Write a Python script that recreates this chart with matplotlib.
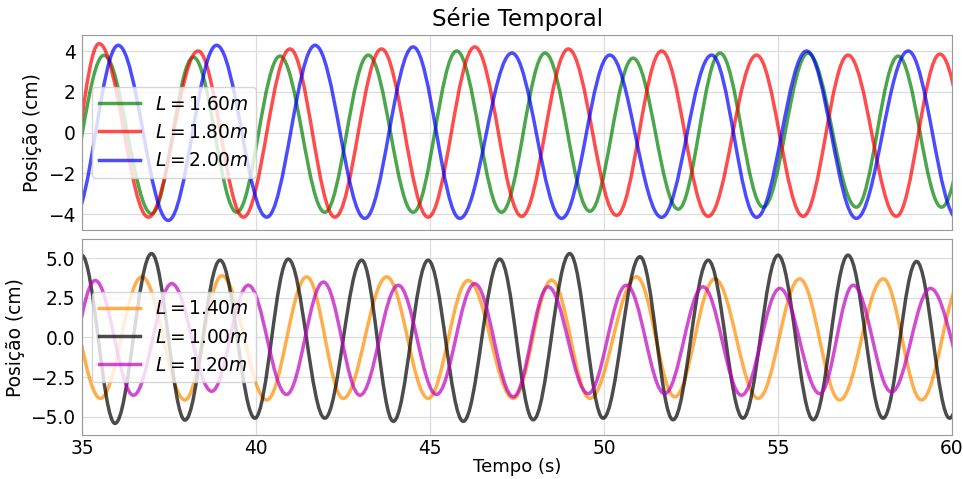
import matplotlib
matplotlib.use("Agg")
import matplotlib.pyplot as plt
from matplotlib.path import Path
from matplotlib.patches import PathPatch
from matplotlib.lines import Line2D

# peaks / troughs (time in s, position in cm)
# first and last entries sit just outside the 35-60 s window
t_160 = [34.37, 35.62, 36.99, 38.19, 39.44, 40.68, 41.97, 43.22, 44.51, 45.76, 47.05,
         48.30, 49.59, 50.83, 52.13, 53.33, 54.57, 55.86, 57.25, 58.45, 59.70, 60.97]
y_160 = [-3.9, 3.79, -3.97, 3.7, -3.9, 3.75, -3.9, 3.8, -3.9, 4.0, -3.9,
         3.9, -3.85, 3.65, -3.75, 3.9, -3.65, 3.9, -3.65, 3.75, -3.65, 3.8]

t_180 = [34.4, 35.48, 36.9, 38.33, 39.63, 40.97, 42.26, 43.6, 44.94, 46.28, 47.63,
         48.97, 50.36, 51.65, 52.99, 54.38, 55.72, 57.01, 58.4, 59.65, 61.0]
y_180 = [-4.1, 4.36, -4.14, 4.0, -4.14, 4.1, -4.14, 4.1, -4.14, 4.2, -4.1,
         4.1, -4.05, 4.0, -4.1, 3.8, -4.1, 3.8, -4.1, 3.85, -4.1]

t_200 = [34.74, 36.03, 37.47, 38.86, 40.3, 41.69, 43.12, 44.51, 45.85, 47.35,
         48.78, 50.16, 51.65, 53.09, 54.38, 55.82, 57.25, 58.74, 60.15, 61.55]
y_200 = [-4.2, 4.28, -4.3, 4.28, -4.14, 4.28, -4.2, 4.2, -4.2, 3.9,
         -4.2, 3.8, -4.15, 3.8, -4.15, 4.0, -4.2, 4.0, -4.2, 4.0]

t_140 = [34.35, 35.52, 36.71, 37.95, 39.01, 40.3, 41.45, 42.5, 43.75, 44.94, 46.09, 47.39,
         48.49, 49.59, 50.93, 52.03, 53.18, 54.43, 55.62, 56.77, 58.02, 59.12, 60.3]
y_140 = [3.8, -3.85, 3.83, -3.95, 3.9, -3.95, 3.83, -3.85, 3.83, -3.85, 3.6, -3.85,
         3.62, -3.85, 3.83, -3.75, 3.7, -3.85, 3.7, -3.95, 3.7, -3.95, 3.7]

t_100 = [34.98, 35.94, 36.99, 37.95, 38.96, 39.96, 40.92, 41.97, 43.03, 43.94, 44.94, 45.95,
         47.0, 47.96, 49.01, 49.97, 51.03, 51.98, 52.99, 53.99, 55.0, 56.01, 57.01, 58.02,
         58.98, 59.93, 60.95]
y_100 = [5.2, -5.43, 5.3, -5.22, 4.88, -5.1, 4.95, -5.1, 4.88, -5.3, 4.88, -5.3,
         4.95, -5.2, 5.3, -5.1, 5.1, -5.2, 4.88, -5.1, 5.2, -5.2, 5.2, -5.1,
         4.8, -5.1, 5.0]

t_120 = [34.35, 35.37, 36.47, 37.57, 38.72, 39.77, 40.87, 41.93, 42.98, 44.08, 45.18, 46.28,
         47.39, 48.39, 49.54, 50.64, 51.74, 52.84, 53.95, 55.05, 56.2, 57.16, 58.26, 59.38, 60.6]
y_120 = [-3.6, 3.6, -3.65, 3.4, -3.4, 3.3, -3.6, 3.5, -3.65, 3.3, -3.6, 3.4,
         -3.75, 3.2, -3.55, 3.3, -3.55, 3.2, -3.65, 3.1, -3.55, 3.3, -3.45, 3.1, -3.5]

top_series = [(t_160, y_160, "g", r"$L = 1.60m$"),
              (t_180, y_180, "r", r"$L = 1.80m$"),
              (t_200, y_200, "b", r"$L = 2.00m$")]
bot_series = [(t_140, y_140, "darkorange", r"$L = 1.40m$"),
              (t_100, y_100, "k", r"$L = 1.00m$"),
              (t_120, y_120, "m", r"$L = 1.20m$")]

LW = 2.5
ALPHA = 0.7
FS = 13.4


def swing(t, y):
    # smooth curve through the extremes (flat tangent at every peak / trough)
    verts = [(t[0], y[0])]
    codes = [Path.MOVETO]
    for i in range(len(t) - 1):
        d = (t[i + 1] - t[i]) * 0.3634
        verts += [(t[i] + d, y[i]), (t[i + 1] - d, y[i + 1]), (t[i + 1], y[i + 1])]
        codes += [Path.CURVE4] * 3
    return Path(verts, codes)


fig = plt.figure(figsize=(9.63, 4.79), dpi=100)
ax1 = fig.add_axes([0.0855, 0.5198, 0.9031, 0.4078])
ax2 = fig.add_axes([0.0855, 0.0919, 0.9031, 0.4085], sharex=ax1)

for ax, series in [(ax1, top_series), (ax2, bot_series)]:
    handles = []
    for t, y, c, lab in series:
        ax.add_patch(PathPatch(swing(t, y), fill=False, edgecolor=c, lw=LW,
                               alpha=ALPHA, capstyle="round", joinstyle="round"))
        handles.append(Line2D([], [], color=c, lw=LW, alpha=ALPHA, label=lab))
    ax.legend(handles=handles, loc="center left", fontsize=FS, handlelength=2.2,
              bbox_to_anchor=(0.0, 0.5))
    ax.grid(True, color="#dddddd", lw=0.9)
    ax.set_axisbelow(True)
    for s in ax.spines.values():
        s.set_color("#999999")
    ax.tick_params(labelsize=FS, length=0, pad=5)
    ax.set_ylabel("Posição (cm)", fontsize=FS, labelpad=4)

ax1.set_xlim(35, 60)
ax1.set_ylim(-4.77, 4.8)
ax1.set_yticks([-4, -2, 0, 2, 4])
ax1.tick_params(labelbottom=False)
ax1.set_title("Série Temporal", fontsize=16.5)

ax2.set_ylim(-6.16, 6.2)
ax2.set_yticks([-5.0, -2.5, 0.0, 2.5, 5.0])
ax2.set_xticks([35, 40, 45, 50, 55, 60])
ax2.tick_params(axis="x", pad=3)
ax2.set_xlabel("Tempo (s)", fontsize=13, labelpad=0)

fig.savefig("out.png", dpi=100)
